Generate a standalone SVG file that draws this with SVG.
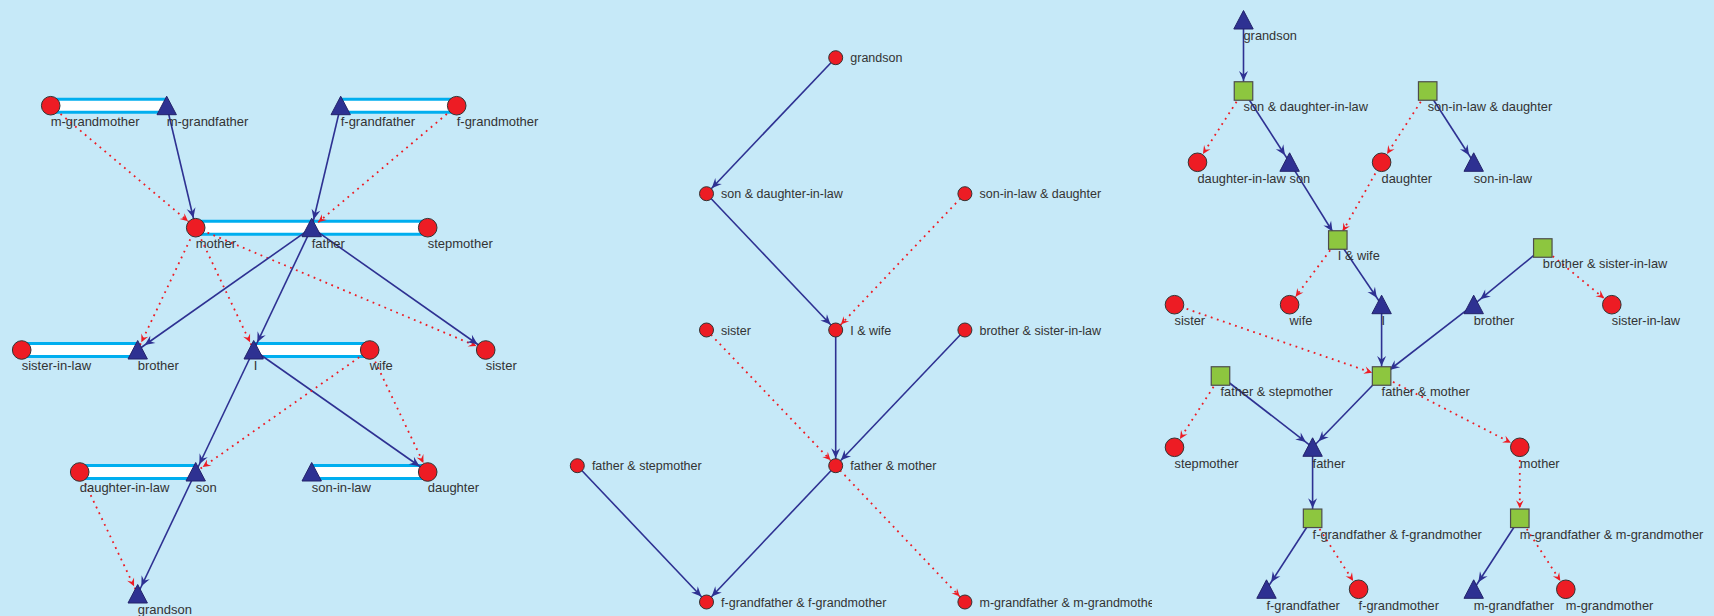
<svg xmlns="http://www.w3.org/2000/svg" width="1714" height="616" viewBox="0 0 1714 616">
<style>
.lbl{font-family:"Liberation Sans",Arial,sans-serif;fill:#333333}
.p1{font-size:13px}
.p2{font-size:12.5px}
.p3{font-size:12.8px}
.blue{stroke:#2E3192;stroke-width:1.6;fill:none}
.red{stroke:#ED1C24;stroke-width:1.8;fill:none;stroke-dasharray:1.8 4.6}
.barO{stroke:#00AEEF;stroke-width:16}
.barI{stroke:#FFFFFF;stroke-width:10}
</style>
<defs>
<path id="tri" d="M0,-9.5 L9.7,9 L-9.7,9 Z" fill="#2E3192" stroke="#23236a" stroke-width="1"/>
<circle id="cir" r="9.3" fill="#ED1C24" stroke="#333333" stroke-width="1"/>
<circle id="ell" r="7" fill="#ED1C24" stroke="#333333" stroke-width="1"/>
<rect id="sq" x="-9.25" y="-9.25" width="18.5" height="18.5" fill="#8DC63F" stroke="#4d4d4d" stroke-width="1.2"/>
<marker id="bC" markerUnits="userSpaceOnUse" orient="auto" refX="10" refY="0" markerWidth="20" markerHeight="20" overflow="visible"><path d="M-10,-4.5 L0,0 L-10,4.5 L-6.5,0 Z" fill="#2E3192"/></marker>
<marker id="bT" markerUnits="userSpaceOnUse" orient="auto" refX="8.5" refY="0" markerWidth="20" markerHeight="20" overflow="visible"><path d="M-10,-4.5 L0,0 L-10,4.5 L-6.5,0 Z" fill="#2E3192"/></marker>
<marker id="bE" markerUnits="userSpaceOnUse" orient="auto" refX="7.5" refY="0" markerWidth="20" markerHeight="20" overflow="visible"><path d="M-10,-4.5 L0,0 L-10,4.5 L-6.5,0 Z" fill="#2E3192"/></marker>
<marker id="rC" markerUnits="userSpaceOnUse" orient="auto" refX="10" refY="0" markerWidth="20" markerHeight="20" overflow="visible"><path d="M-8,-3.8 L0,0 L-8,3.8 L-5,0 Z" fill="#ED1C24"/></marker>
<marker id="rT" markerUnits="userSpaceOnUse" orient="auto" refX="8.5" refY="0" markerWidth="20" markerHeight="20" overflow="visible"><path d="M-8,-3.8 L0,0 L-8,3.8 L-5,0 Z" fill="#ED1C24"/></marker>
<marker id="rE" markerUnits="userSpaceOnUse" orient="auto" refX="7.5" refY="0" markerWidth="20" markerHeight="20" overflow="visible"><path d="M-8,-3.8 L0,0 L-8,3.8 L-5,0 Z" fill="#ED1C24"/></marker>
<clipPath id="clip2"><rect x="530" y="0" width="622" height="616"/></clipPath>
</defs>
<rect width="1714" height="616" fill="#C6E9F8"/>

<!-- ============ Panel 1 ============ -->
<g id="connectors-1">
<line class="barO" x1="50.7" y1="105.7" x2="166.7" y2="105.7"/><line class="barI" x1="50.7" y1="105.7" x2="166.7" y2="105.7"/>
<line class="barO" x1="340.7" y1="105.7" x2="456.7" y2="105.7"/><line class="barI" x1="340.7" y1="105.7" x2="456.7" y2="105.7"/>
<line class="barO" x1="195.7" y1="227.7" x2="427.7" y2="227.7"/><line class="barI" x1="195.7" y1="227.7" x2="427.7" y2="227.7"/>
<line class="barO" x1="21.7" y1="350" x2="137.7" y2="350"/><line class="barI" x1="21.7" y1="350" x2="137.7" y2="350"/>
<line class="barO" x1="253.7" y1="350" x2="369.7" y2="350"/><line class="barI" x1="253.7" y1="350" x2="369.7" y2="350"/>
<line class="barO" x1="79.7" y1="472" x2="195.7" y2="472"/><line class="barI" x1="79.7" y1="472" x2="195.7" y2="472"/>
<line class="barO" x1="311.7" y1="472" x2="427.7" y2="472"/><line class="barI" x1="311.7" y1="472" x2="427.7" y2="472"/>
<line class="red" x1="50.7" y1="105.7" x2="195.7" y2="227.7" marker-end="url(#rC)"/>
<line class="blue" x1="166.7" y1="105.7" x2="195.7" y2="227.7" marker-end="url(#bC)"/>
<line class="blue" x1="340.7" y1="105.7" x2="311.7" y2="227.7" marker-end="url(#bT)"/>
<line class="red" x1="456.7" y1="105.7" x2="311.7" y2="227.7" marker-end="url(#rT)"/>
<line class="red" x1="195.7" y1="227.7" x2="137.7" y2="350" marker-end="url(#rT)"/>
<line class="red" x1="195.7" y1="227.7" x2="253.7" y2="350" marker-end="url(#rT)"/>
<line class="red" x1="195.7" y1="227.7" x2="485.7" y2="350" marker-end="url(#rC)"/>
<line class="blue" x1="311.7" y1="227.7" x2="137.7" y2="350" marker-end="url(#bT)"/>
<line class="blue" x1="311.7" y1="227.7" x2="253.7" y2="350" marker-end="url(#bT)"/>
<line class="blue" x1="311.7" y1="227.7" x2="485.7" y2="350" marker-end="url(#bC)"/>
<line class="blue" x1="253.7" y1="350" x2="195.7" y2="472" marker-end="url(#bT)"/>
<line class="blue" x1="253.7" y1="350" x2="427.7" y2="472" marker-end="url(#bC)"/>
<line class="red" x1="369.7" y1="350" x2="195.7" y2="472" marker-end="url(#rT)"/>
<line class="red" x1="369.7" y1="350" x2="427.7" y2="472" marker-end="url(#rC)"/>
<line class="blue" x1="195.7" y1="472" x2="137.7" y2="594" marker-end="url(#bT)"/>
<line class="red" x1="79.7" y1="472" x2="137.7" y2="594" marker-end="url(#rT)"/>
</g>
<g id="p1-m-grandmother"><use href="#cir" x="50.7" y="105.7"/><text class="lbl p1" x="50.7" y="125.7">m-grandmother</text></g>
<g id="p1-m-grandfather"><use href="#tri" x="166.7" y="105.7"/><text class="lbl p1" x="166.7" y="125.7">m-grandfather</text></g>
<g id="p1-f-grandfather"><use href="#tri" x="340.7" y="105.7"/><text class="lbl p1" x="340.7" y="125.7">f-grandfather</text></g>
<g id="p1-f-grandmother"><use href="#cir" x="456.7" y="105.7"/><text class="lbl p1" x="456.7" y="125.7">f-grandmother</text></g>
<g id="p1-mother"><use href="#cir" x="195.7" y="227.7"/><text class="lbl p1" x="195.7" y="247.7">mother</text></g>
<g id="p1-father"><use href="#tri" x="311.7" y="227.7"/><text class="lbl p1" x="311.7" y="247.7">father</text></g>
<g id="p1-stepmother"><use href="#cir" x="427.7" y="227.7"/><text class="lbl p1" x="427.7" y="247.7">stepmother</text></g>
<g id="p1-sister-in-law"><use href="#cir" x="21.7" y="350"/><text class="lbl p1" x="21.7" y="370">sister-in-law</text></g>
<g id="p1-brother"><use href="#tri" x="137.7" y="350"/><text class="lbl p1" x="137.7" y="370">brother</text></g>
<g id="p1-I"><use href="#tri" x="253.7" y="350"/><text class="lbl p1" x="253.7" y="370">I</text></g>
<g id="p1-wife"><use href="#cir" x="369.7" y="350"/><text class="lbl p1" x="369.7" y="370">wife</text></g>
<g id="p1-sister"><use href="#cir" x="485.7" y="350"/><text class="lbl p1" x="485.7" y="370">sister</text></g>
<g id="p1-daughter-in-law"><use href="#cir" x="79.7" y="472"/><text class="lbl p1" x="79.7" y="492">daughter-in-law</text></g>
<g id="p1-son"><use href="#tri" x="195.7" y="472"/><text class="lbl p1" x="195.7" y="492">son</text></g>
<g id="p1-son-in-law"><use href="#tri" x="311.7" y="472"/><text class="lbl p1" x="311.7" y="492">son-in-law</text></g>
<g id="p1-daughter"><use href="#cir" x="427.7" y="472"/><text class="lbl p1" x="427.7" y="492">daughter</text></g>
<g id="p1-grandson"><use href="#tri" x="137.7" y="594"/><text class="lbl p1" x="137.7" y="614">grandson</text></g>

<!-- ============ Panel 2 ============ -->
<g clip-path="url(#clip2)">
<g id="connectors-2">
<line class="blue" x1="835.7" y1="57.7" x2="706.5" y2="193.7" marker-end="url(#bE)"/>
<line class="blue" x1="706.5" y1="193.7" x2="835.7" y2="330" marker-end="url(#bE)"/>
<line class="red" x1="964.9" y1="193.7" x2="835.7" y2="330" marker-end="url(#rE)"/>
<line class="blue" x1="835.7" y1="330" x2="835.7" y2="465.7" marker-end="url(#bE)"/>
<line class="red" x1="706.5" y1="330" x2="835.7" y2="465.7" marker-end="url(#rE)"/>
<line class="blue" x1="964.9" y1="330" x2="835.7" y2="465.7" marker-end="url(#bE)"/>
<line class="blue" x1="577.3" y1="465.7" x2="706.5" y2="602" marker-end="url(#bE)"/>
<line class="blue" x1="835.7" y1="465.7" x2="706.5" y2="602" marker-end="url(#bE)"/>
<line class="red" x1="835.7" y1="465.7" x2="964.9" y2="602" marker-end="url(#rE)"/>
</g>
<g id="p2-grandson"><use href="#ell" x="835.7" y="57.7"/><text class="lbl p2" x="850.3" y="62.2">grandson</text></g>
<g id="p2-son-daughter-in-law"><use href="#ell" x="706.5" y="193.7"/><text class="lbl p2" x="721.1" y="198.2">son &amp; daughter-in-law</text></g>
<g id="p2-son-in-law-daughter"><use href="#ell" x="964.9" y="193.7"/><text class="lbl p2" x="979.5" y="198.2">son-in-law &amp; daughter</text></g>
<g id="p2-sister"><use href="#ell" x="706.5" y="330"/><text class="lbl p2" x="721.1" y="334.5">sister</text></g>
<g id="p2-I-wife"><use href="#ell" x="835.7" y="330"/><text class="lbl p2" x="850.3" y="334.5">I &amp; wife</text></g>
<g id="p2-brother-sister-in-law"><use href="#ell" x="964.9" y="330"/><text class="lbl p2" x="979.5" y="334.5">brother &amp; sister-in-law</text></g>
<g id="p2-father-stepmother"><use href="#ell" x="577.3" y="465.7"/><text class="lbl p2" x="591.9" y="470.2">father &amp; stepmother</text></g>
<g id="p2-father-mother"><use href="#ell" x="835.7" y="465.7"/><text class="lbl p2" x="850.3" y="470.2">father &amp; mother</text></g>
<g id="p2-f-grandparents"><use href="#ell" x="706.5" y="602"/><text class="lbl p2" x="721.1" y="606.5">f-grandfather &amp; f-grandmother</text></g>
<g id="p2-m-grandparents"><use href="#ell" x="964.9" y="602"/><text class="lbl p2" x="979.5" y="606.5">m-grandfather &amp; m-grandmother</text></g>
</g>

<!-- ============ Panel 3 ============ -->
<g id="connectors-3">
<line class="blue" x1="1243.5" y1="20" x2="1243.5" y2="91" marker-end="url(#bC)"/>
<line class="red" x1="1243.5" y1="91" x2="1197.5" y2="162.3" marker-end="url(#rC)"/>
<line class="blue" x1="1243.5" y1="91" x2="1289.6" y2="162.3" marker-end="url(#bT)"/>
<line class="red" x1="1427.7" y1="91" x2="1381.6" y2="162.3" marker-end="url(#rC)"/>
<line class="blue" x1="1427.7" y1="91" x2="1473.7" y2="162.3" marker-end="url(#bT)"/>
<line class="blue" x1="1289.6" y1="162.3" x2="1337.8" y2="240" marker-end="url(#bC)"/>
<line class="red" x1="1381.6" y1="162.3" x2="1337.8" y2="240" marker-end="url(#rC)"/>
<line class="red" x1="1337.8" y1="240" x2="1289.6" y2="304.7" marker-end="url(#rC)"/>
<line class="blue" x1="1337.8" y1="240" x2="1381.6" y2="304.7" marker-end="url(#bT)"/>
<line class="blue" x1="1542.8" y1="248" x2="1473.7" y2="304.7" marker-end="url(#bT)"/>
<line class="red" x1="1542.8" y1="248" x2="1611.8" y2="304.7" marker-end="url(#rC)"/>
<line class="blue" x1="1381.6" y1="304.7" x2="1381.6" y2="376" marker-end="url(#bC)"/>
<line class="blue" x1="1473.7" y1="304.7" x2="1381.6" y2="376" marker-end="url(#bC)"/>
<line class="red" x1="1174.5" y1="304.7" x2="1381.6" y2="376" marker-end="url(#rC)"/>
<line class="red" x1="1220.5" y1="376" x2="1174.5" y2="447.3" marker-end="url(#rC)"/>
<line class="blue" x1="1220.5" y1="376" x2="1312.6" y2="447.3" marker-end="url(#bT)"/>
<line class="blue" x1="1381.6" y1="376" x2="1312.6" y2="447.3" marker-end="url(#bT)"/>
<line class="red" x1="1381.6" y1="376" x2="1519.8" y2="447.3" marker-end="url(#rC)"/>
<line class="blue" x1="1312.6" y1="447.3" x2="1312.6" y2="518.3" marker-end="url(#bC)"/>
<line class="red" x1="1519.8" y1="447.3" x2="1519.8" y2="518.3" marker-end="url(#rC)"/>
<line class="blue" x1="1312.6" y1="518.3" x2="1266.5" y2="589.3" marker-end="url(#bT)"/>
<line class="red" x1="1312.6" y1="518.3" x2="1358.6" y2="589.3" marker-end="url(#rC)"/>
<line class="blue" x1="1519.8" y1="518.3" x2="1473.7" y2="589.3" marker-end="url(#bT)"/>
<line class="red" x1="1519.8" y1="518.3" x2="1565.8" y2="589.3" marker-end="url(#rC)"/>
</g>
<g id="p3-grandson"><use href="#tri" x="1243.5" y="20"/><text class="lbl p3" x="1243.5" y="39.5">grandson</text></g>
<g id="p3-son-daughter-in-law"><use href="#sq" x="1243.5" y="91"/><text class="lbl p3" x="1243.5" y="111">son &amp; daughter-in-law</text></g>
<g id="p3-son-in-law-daughter"><use href="#sq" x="1427.7" y="91"/><text class="lbl p3" x="1427.7" y="111">son-in-law &amp; daughter</text></g>
<g id="p3-daughter-in-law"><use href="#cir" x="1197.5" y="162.3"/><text class="lbl p3" x="1197.5" y="182.5">daughter-in-law</text></g>
<g id="p3-son"><use href="#tri" x="1289.6" y="162.3"/><text class="lbl p3" x="1289.6" y="182.5">son</text></g>
<g id="p3-daughter"><use href="#cir" x="1381.6" y="162.3"/><text class="lbl p3" x="1381.6" y="182.5">daughter</text></g>
<g id="p3-son-in-law"><use href="#tri" x="1473.7" y="162.3"/><text class="lbl p3" x="1473.7" y="182.5">son-in-law</text></g>
<g id="p3-I-wife"><use href="#sq" x="1337.8" y="240"/><text class="lbl p3" x="1337.8" y="260">I &amp; wife</text></g>
<g id="p3-brother-sister-in-law"><use href="#sq" x="1542.8" y="248"/><text class="lbl p3" x="1542.8" y="268">brother &amp; sister-in-law</text></g>
<g id="p3-sister"><use href="#cir" x="1174.5" y="304.7"/><text class="lbl p3" x="1174.5" y="325">sister</text></g>
<g id="p3-wife"><use href="#cir" x="1289.6" y="304.7"/><text class="lbl p3" x="1289.6" y="325">wife</text></g>
<g id="p3-I"><use href="#tri" x="1381.6" y="304.7"/><text class="lbl p3" x="1381.6" y="325">I</text></g>
<g id="p3-brother"><use href="#tri" x="1473.7" y="304.7"/><text class="lbl p3" x="1473.7" y="325">brother</text></g>
<g id="p3-sister-in-law"><use href="#cir" x="1611.8" y="304.7"/><text class="lbl p3" x="1611.8" y="325">sister-in-law</text></g>
<g id="p3-father-stepmother"><use href="#sq" x="1220.5" y="376"/><text class="lbl p3" x="1220.5" y="396">father &amp; stepmother</text></g>
<g id="p3-father-mother"><use href="#sq" x="1381.6" y="376"/><text class="lbl p3" x="1381.6" y="396">father &amp; mother</text></g>
<g id="p3-stepmother"><use href="#cir" x="1174.5" y="447.3"/><text class="lbl p3" x="1174.5" y="467.5">stepmother</text></g>
<g id="p3-father"><use href="#tri" x="1312.6" y="447.3"/><text class="lbl p3" x="1312.6" y="467.5">father</text></g>
<g id="p3-mother"><use href="#cir" x="1519.8" y="447.3"/><text class="lbl p3" x="1519.8" y="467.5">mother</text></g>
<g id="p3-f-grandparents"><use href="#sq" x="1312.6" y="518.3"/><text class="lbl p3" x="1312.6" y="538.5">f-grandfather &amp; f-grandmother</text></g>
<g id="p3-m-grandparents"><use href="#sq" x="1519.8" y="518.3"/><text class="lbl p3" x="1519.8" y="538.5">m-grandfather &amp; m-grandmother</text></g>
<g id="p3-f-grandfather"><use href="#tri" x="1266.5" y="589.3"/><text class="lbl p3" x="1266.5" y="609.5">f-grandfather</text></g>
<g id="p3-f-grandmother"><use href="#cir" x="1358.6" y="589.3"/><text class="lbl p3" x="1358.6" y="609.5">f-grandmother</text></g>
<g id="p3-m-grandfather"><use href="#tri" x="1473.7" y="589.3"/><text class="lbl p3" x="1473.7" y="609.5">m-grandfather</text></g>
<g id="p3-m-grandmother"><use href="#cir" x="1565.8" y="589.3"/><text class="lbl p3" x="1565.8" y="609.5">m-grandmother</text></g>
</svg>
